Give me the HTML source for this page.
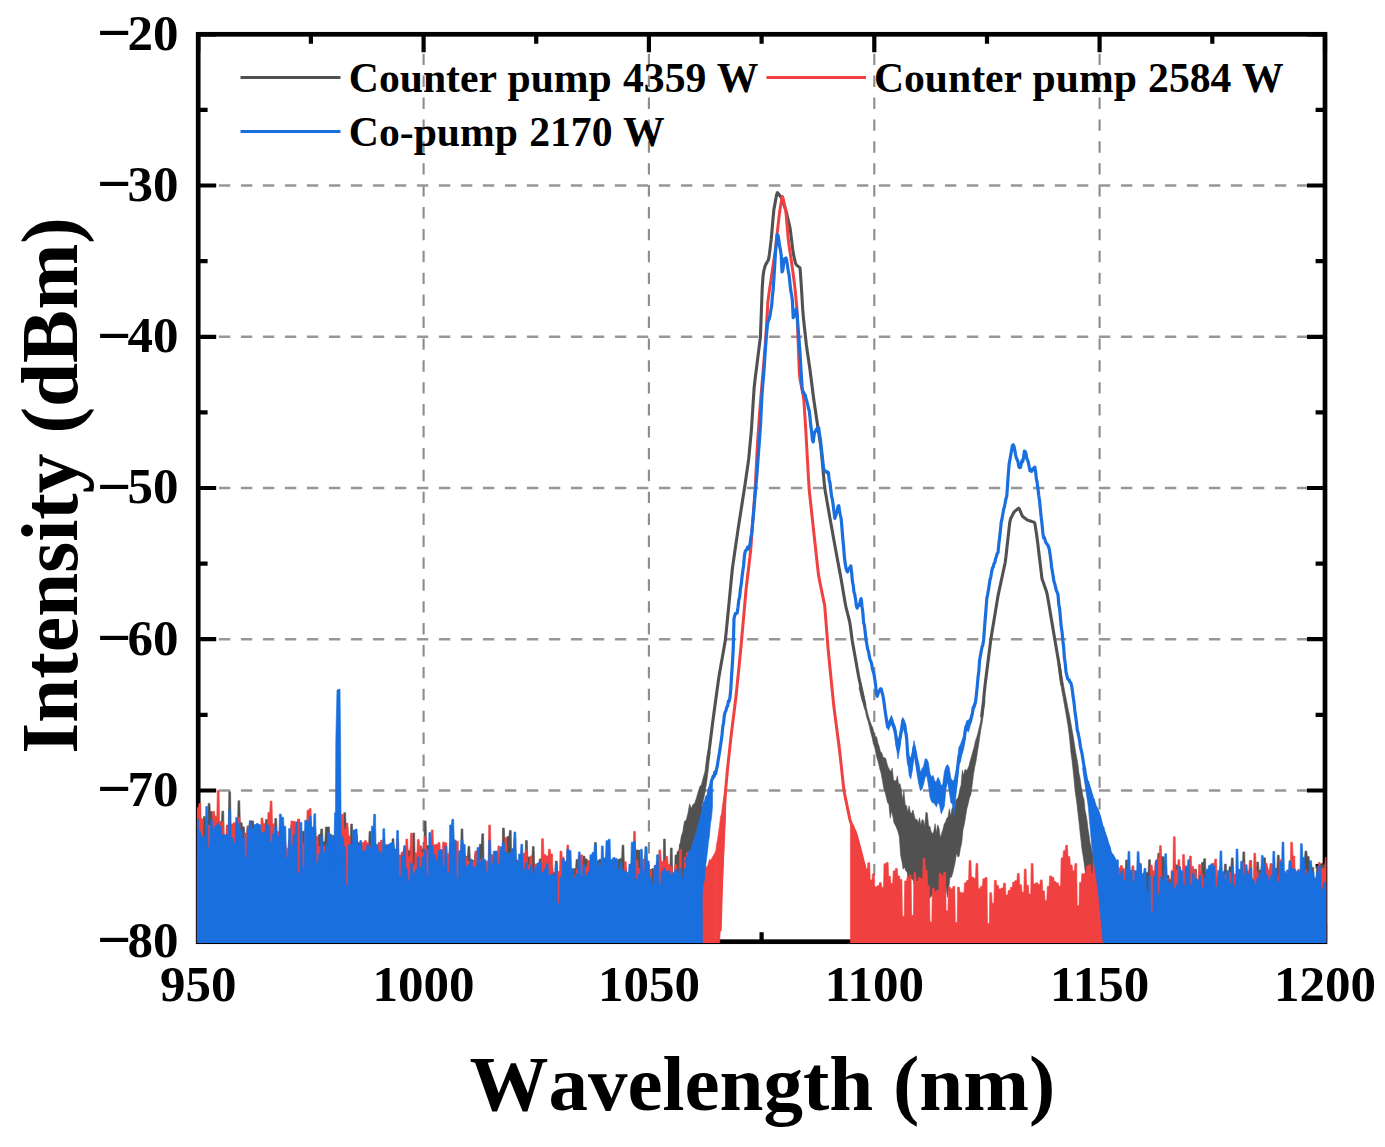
<!DOCTYPE html>
<html lang="en">
<head>
<meta charset="utf-8">
<title>Spectrum: Intensity (dBm) vs Wavelength (nm)</title>
<style>
html,body{margin:0;padding:0;background:#fff;}
body{width:1385px;height:1147px;overflow:hidden;}
svg{display:block;}
text{font-family:"Liberation Serif","Times New Roman",Times,serif;font-weight:bold;fill:#000;}
</style>
</head>
<body>
<svg width="1385" height="1147" viewBox="0 0 1385 1147">
<rect width="1385" height="1147" fill="#fff"/>
<defs><clipPath id="plot"><rect x="196.9" y="33" width="1129.4" height="910"/></clipPath></defs>
<g stroke="#979797" stroke-width="2.6" fill="none"><line x1="423.6" y1="34.3" x2="423.6" y2="941.7" stroke="#8c8c8c" stroke-width="2.1" stroke-dasharray="11.4 10.5" stroke-dashoffset="2.5"/><line x1="648.9" y1="34.3" x2="648.9" y2="941.7" stroke="#8c8c8c" stroke-width="2.1" stroke-dasharray="11.4 10.5" stroke-dashoffset="2.5"/><line x1="874.3" y1="34.3" x2="874.3" y2="941.7" stroke="#8c8c8c" stroke-width="2.1" stroke-dasharray="11.4 10.5" stroke-dashoffset="2.5"/><line x1="1099.6" y1="34.3" x2="1099.6" y2="941.7" stroke="#8c8c8c" stroke-width="2.1" stroke-dasharray="11.4 10.5" stroke-dashoffset="2.5"/><line x1="198.2" y1="185.5" x2="1325" y2="185.5" stroke-dasharray="11.4 10.6" stroke-dashoffset="1.3"/><line x1="198.2" y1="336.8" x2="1325" y2="336.8" stroke-dasharray="11.4 10.6" stroke-dashoffset="1.3"/><line x1="198.2" y1="488" x2="1325" y2="488" stroke-dasharray="11.4 10.6" stroke-dashoffset="1.3"/><line x1="198.2" y1="639.2" x2="1325" y2="639.2" stroke-dasharray="11.4 10.6" stroke-dashoffset="1.3"/><line x1="198.2" y1="790.5" x2="1325" y2="790.5" stroke-dasharray="11.4 10.6" stroke-dashoffset="1.3"/></g>
<rect x="198.2" y="34.3" width="1126.8" height="907.4" fill="none" stroke="#000" stroke-width="4.7"/>
<path d="M198.2 34.3v18M198.2 941.7v-18M310.9 34.3v9.4M310.9 941.7v-9.4M423.6 34.3v18M423.6 941.7v-18M536.2 34.3v9.4M536.2 941.7v-9.4M648.9 34.3v18M648.9 941.7v-18M761.6 34.3v9.4M761.6 941.7v-9.4M874.3 34.3v18M874.3 941.7v-18M987 34.3v9.4M987 941.7v-9.4M1099.6 34.3v18M1099.6 941.7v-18M1212.3 34.3v9.4M1212.3 941.7v-9.4M1325 34.3v18M1325 941.7v-18M198.2 941.7h18M1325 941.7h-18M198.2 866.1h9.4M1325 866.1h-9.4M198.2 790.5h18M1325 790.5h-18M198.2 714.9h9.4M1325 714.9h-9.4M198.2 639.2h18M1325 639.2h-18M198.2 563.6h9.4M1325 563.6h-9.4M198.2 488h18M1325 488h-18M198.2 412.4h9.4M1325 412.4h-9.4M198.2 336.8h18M1325 336.8h-18M198.2 261.2h9.4M1325 261.2h-9.4M198.2 185.5h18M1325 185.5h-18M198.2 109.9h9.4M1325 109.9h-9.4M198.2 34.3h18M1325 34.3h-18" stroke="#000" stroke-width="4.2" fill="none"/>
<g clip-path="url(#plot)">
<g fill="#515151" stroke="#515151" stroke-width="0.6" stroke-linejoin="round"><path d="M195.2 947.1L195.2 834.2L196.1 834.2L196.6 872L198.4 872L198.9 834.2L200.7 834.2L201.2 828L203 828L203.5 816.4L205.3 816.4L205.8 832.7L207.6 832.7L208.1 803.4L209.9 803.4L210.4 811.5L212.2 811.5L212.7 825.1L214.5 825.1L215 830.7L216.8 830.7L217.3 833L219.1 833L219.6 821.6L221.4 821.6L221.9 811.1L223.7 811.1L224.2 846.2L226 846.2L226.5 825.1L228.3 825.1L228.8 791.7L230.6 791.7L231.1 834.1L232.9 834.1L233.4 828.7L235.2 828.7L235.7 826.2L237.5 826.2L238 800.8L239.8 800.8L240.3 822.7L242.1 822.7L242.6 826.9L244.4 826.9L244.9 839.7L246.7 839.7L247.2 826L249 826L249.5 820.8L251.3 820.8L251.8 820.9L253.6 820.9L254.1 830L255.9 830L256.4 830.3L258.2 830.3L258.7 829.2L260.5 829.2L261 825.6L262.8 825.6L263.3 833.9L265.1 833.9L265.6 819.5L267.4 819.5L267.9 834.5L269.7 834.5L270.2 824L272 824L272.5 859.6L274.3 859.6L274.8 818.5L276.6 818.5L277.1 832.2L278.9 832.2L279.4 837.3L281.2 837.3L281.7 861.2L283.5 861.2L284 848.2L285.8 848.2L286.3 856L288.1 856L288.6 839.9L290.4 839.9L290.9 825.2L292.7 825.2L293.2 829.5L295 829.5L295.5 835.4L297.3 835.4L297.8 819.4L299.6 819.4L300.1 842.4L301.9 842.4L302.4 831.2L304.2 831.2L304.7 853.7L306.5 853.7L307 870.5L308.8 870.5L309.3 876.1L311.1 876.1L311.6 844L313.4 844L313.9 827.8L315.7 827.8L316.2 839L318 839L318.5 834.6L320.3 834.6L320.8 829L322.6 829L323.1 841.8L324.9 841.8L325.4 827L327.2 827L327.7 827L329.5 827L330 848.1L331.8 848.1L332.3 835.6L334.1 835.6L334.6 840.2L336.4 840.2L336.9 833.1L338.7 833.1L339.2 848.1L341 848.1L341.5 840.9L343.3 840.9L343.8 812.7L345.6 812.7L346.1 827.1L347.9 827.1L348.4 839.4L350.2 839.4L350.7 824L352.5 824L353 843.3L354.8 843.3L355.3 834L357.1 834L357.6 842.4L359.4 842.4L359.9 854.9L361.7 854.9L362.2 844.6L364 844.6L364.5 842.8L366.3 842.8L366.8 846.7L368.6 846.7L369.1 831.5L370.9 831.5L371.4 849.1L373.2 849.1L373.7 845.8L375.5 845.8L376 848.6L377.8 848.6L378.3 842.4L380.1 842.4L380.6 846.6L382.4 846.6L382.9 849.6L384.7 849.6L385.2 846.1L387 846.1L387.5 845.6L389.3 845.6L389.8 852.5L391.6 852.5L392.1 838.7L393.9 838.7L394.4 854.4L396.2 854.4L396.7 892.2L398.5 892.2L399 876L400.8 876L401.3 860.6L403.1 860.6L403.6 849L405.4 849L405.9 847.2L407.7 847.2L408.2 850.7L410 850.7L410.5 846L412.3 846L412.8 833L414.6 833L415.1 856.7L416.9 856.7L417.4 872.8L419.2 872.8L419.7 846.1L421.5 846.1L422 849.1L423.8 849.1L424.3 821L426.1 821L426.6 845.6L428.4 845.6L428.9 845.8L430.7 845.8L431.2 871.2L433 871.2L433.5 848.7L435.3 848.7L435.8 846L437.6 846L438.1 858.3L439.9 858.3L440.4 882.3L442.2 882.3L442.7 857.8L444.5 857.8L445 895.1L446.8 895.1L447.3 856.3L449.1 856.3L449.6 842.9L451.4 842.9L451.9 833.3L453.7 833.3L454.2 854.9L456 854.9L456.5 881.6L458.3 881.6L458.8 854.4L460.6 854.4L461.1 828.9L462.9 828.9L463.4 858.8L465.2 858.8L465.7 856.3L467.5 856.3L468 846.4L469.8 846.4L470.3 859.2L472.1 859.2L472.6 860.6L474.4 860.6L474.9 853.2L476.7 853.2L477.2 848.6L479 848.6L479.5 844.3L481.3 844.3L481.8 833.8L483.6 833.8L484.1 864.3L485.9 864.3L486.4 868.7L488.2 868.7L488.7 862.8L490.5 862.8L491 859.1L492.8 859.1L493.3 883.6L495.1 883.6L495.6 862.2L497.4 862.2L497.9 870.1L499.7 870.1L500.2 862.7L502 862.7L502.5 828.1L504.3 828.1L504.8 838.1L506.6 838.1L507.1 836.5L508.9 836.5L509.4 830.4L511.2 830.4L511.7 862L513.5 862L514 839.2L515.8 839.2L516.3 860.2L518.1 860.2L518.6 863.2L520.4 863.2L520.9 857.5L522.7 857.5L523.2 864.8L525 864.8L525.5 840.6L527.3 840.6L527.8 856.9L529.6 856.9L530.1 857.6L531.9 857.6L532.4 846.6L534.2 846.6L534.7 871.1L536.5 871.1L537 863.3L538.8 863.3L539.3 859L541.1 859L541.6 857.2L543.4 857.2L543.9 865.5L545.7 865.5L546.2 862.4L548 862.4L548.5 877L550.3 877L550.8 867.7L552.6 867.7L553.1 872.5L554.9 872.5L555.4 861.1L557.2 861.1L557.7 875.2L559.5 875.2L560 874.5L561.8 874.5L562.3 870.3L564.1 870.3L564.6 867.8L566.4 867.8L566.9 866.3L568.7 866.3L569.2 872.1L571 872.1L571.5 872.4L573.3 872.4L573.8 868.5L575.6 868.5L576.1 859.6L577.9 859.6L578.4 861.1L580.2 861.1L580.7 861.8L582.5 861.8L583 856.1L584.8 856.1L585.3 858.9L587.1 858.9L587.6 861.3L589.4 861.3L589.9 868.4L591.7 868.4L592.2 866.2L594 866.2L594.5 842.5L596.3 842.5L596.8 861.7L598.6 861.7L599.1 859.3L600.9 859.3L601.4 872.8L603.2 872.8L603.7 868.2L605.5 868.2L606 867L607.8 867L608.3 871.9L610.1 871.9L610.6 895.8L612.4 895.8L612.9 878L614.7 878L615.2 876.1L617 876.1L617.5 859.4L619.3 859.4L619.8 858.4L621.6 858.4L622.1 845.2L623.9 845.2L624.4 867.8L626.2 867.8L626.7 873.3L628.5 873.3L629 882L630.8 882L631.3 875.4L633.1 875.4L633.6 897.4L635.4 897.4L635.9 849.9L637.7 849.9L638.2 850.2L640 850.2L640.5 873.2L642.3 873.2L642.8 864.9L644.6 864.9L645.1 847.5L646.9 847.5L647.4 870.8L649.2 870.8L649.7 869.5L651.5 869.5L652 868.6L653.8 868.6L654.3 894.2L656.1 894.2L656.6 861.8L658.4 861.8L658.9 855.1L660.7 855.1L661.2 894.4L663 894.4L663.5 839.1L665.3 839.1L665.8 874.1L667.6 874.1L668.1 870.8L669.9 870.8L670.4 848L672.2 848L672.7 876.4L674.5 876.4L675 855L676.8 855L677.3 851.3L679.1 851.3L679.6 844L681.4 844L681.9 834.7L683.7 834.7L684.2 825.7L686 825.7L686.5 821.5L688.3 821.5L688.8 814.4L690.6 814.4L691.1 810.5L692.9 810.5L693.4 806.7L695.2 806.7L695.7 804L697.5 804L698 796L699.8 796L700.3 791L702.1 791L703 947.1Z"/><path d="M1092 947.1L1092 876.5L1092.9 876.5L1093.4 881L1095.2 881L1095.7 888.5L1097.5 888.5L1098 880.9L1099.8 880.9L1100.3 870L1102.1 870L1102.6 873.6L1104.4 873.6L1104.9 862.4L1106.7 862.4L1107.2 880.1L1109 880.1L1109.5 871.7L1111.3 871.7L1111.8 864.3L1113.6 864.3L1114.1 868.4L1115.9 868.4L1116.4 882L1118.2 882L1118.7 883.1L1120.5 883.1L1121 875.6L1122.8 875.6L1123.3 883.7L1125.1 883.7L1125.6 860L1127.4 860L1127.9 877.9L1129.7 877.9L1130.2 880.4L1132 880.4L1132.5 870.1L1134.3 870.1L1134.8 888.9L1136.6 888.9L1137.1 877L1138.9 877L1139.4 863.4L1141.2 863.4L1141.7 889.9L1143.5 889.9L1144 872.1L1145.8 872.1L1146.3 872.4L1148.1 872.4L1148.6 859.8L1150.4 859.8L1150.9 878.6L1152.7 878.6L1153.2 880.4L1155 880.4L1155.5 863.9L1157.3 863.9L1157.8 853.3L1159.6 853.3L1160.1 855.9L1161.9 855.9L1162.4 856.8L1164.2 856.8L1164.7 865.3L1166.5 865.3L1167 875.3L1168.8 875.3L1169.3 879.4L1171.1 879.4L1171.6 874.4L1173.4 874.4L1173.9 863.9L1175.7 863.9L1176.2 865.1L1178 865.1L1178.5 867.4L1180.3 867.4L1180.8 879.8L1182.6 879.8L1183.1 874.3L1184.9 874.3L1185.4 905.6L1187.2 905.6L1187.7 874.9L1189.5 874.9L1190 881L1191.8 881L1192.3 876.4L1194.1 876.4L1194.6 869.2L1196.4 869.2L1196.9 879.6L1198.7 879.6L1199.2 901.5L1201 901.5L1201.5 862.5L1203.3 862.5L1203.8 858.7L1205.6 858.7L1206.1 886.4L1207.9 886.4L1208.4 870.8L1210.2 870.8L1210.7 872.8L1212.5 872.8L1213 876.4L1214.8 876.4L1215.3 877.1L1217.1 877.1L1217.6 880.4L1219.4 880.4L1219.9 887.8L1221.7 887.8L1222.2 872.7L1224 872.7L1224.5 864.1L1226.3 864.1L1226.8 876.9L1228.6 876.9L1229.1 866.7L1230.9 866.7L1231.4 857.9L1233.2 857.9L1233.7 875.3L1235.5 875.3L1236 875.2L1237.8 875.2L1238.3 869.9L1240.1 869.9L1240.6 870L1242.4 870L1242.9 851.9L1244.7 851.9L1245.2 870L1247 870L1247.5 871.6L1249.3 871.6L1249.8 860.4L1251.6 860.4L1252.1 882.2L1253.9 882.2L1254.4 877.1L1256.2 877.1L1256.7 862L1258.5 862L1259 870.2L1260.8 870.2L1261.3 866.3L1263.1 866.3L1263.6 857.8L1265.4 857.8L1265.9 866.7L1267.7 866.7L1268.2 871.6L1270 871.6L1270.5 916L1272.3 916L1272.8 876.6L1274.6 876.6L1275.1 869.2L1276.9 869.2L1277.4 855.2L1279.2 855.2L1279.7 867.5L1281.5 867.5L1282 869.2L1283.8 869.2L1284.3 877.8L1286.1 877.8L1286.6 909.2L1288.4 909.2L1288.9 890.1L1290.7 890.1L1291.2 878.5L1293 878.5L1293.5 871.1L1295.3 871.1L1295.8 889.4L1297.6 889.4L1298.1 890.9L1299.9 890.9L1300.4 879L1302.2 879L1302.7 859.4L1304.5 859.4L1305 851.1L1306.8 851.1L1307.3 856.4L1309.1 856.4L1309.6 864.2L1311.4 864.2L1311.9 867.5L1313.7 867.5L1314.2 886L1316 886L1316.5 865.9L1318.3 865.9L1318.8 871.5L1320.6 871.5L1321.1 863.3L1322.9 863.3L1323.4 865L1325.2 865L1325.7 864.1L1327.5 864.1L1328 947.1Z"/><path d="M861 683.4L862.3 690.5L863.6 696.2L864.9 701.5L866.2 706.9L867.5 712.4L868.8 717.5L870.1 721.6L871.4 724.9L872.7 727.4L874 732.6L875.3 736.9L876.6 736.7L877.9 742.9L879.2 746.4L880.5 752.1L881.8 752.7L883.1 757.3L884.4 757.8L885.7 758.3L887 763.8L888.3 767.5L889.6 770L890.9 771.5L892.2 768.1L893.5 779.9L894.8 780.8L896.1 780.9L897.4 775.8L898.7 784.7L900 783.6L901.3 789.9L902.6 799.6L903.9 791.1L905.2 805.1L906.5 805.5L907.8 812.3L909.1 805.8L910.4 812.8L911.7 813.3L913 810L914.3 815.8L915.6 820L916.9 819.2L918.2 823.3L919.5 817.7L920.8 825.3L922.1 819.7L923.4 820.2L924.7 826.5L926 812L927.3 813L928.6 826.3L929.9 826.4L931.2 831.7L932.5 833.9L933.8 831.3L935.1 823.7L936.4 833L937.7 824.8L939 828.3L940.3 838.1L941.6 833.4L942.9 829.5L944.2 824.3L945.5 821.9L946.8 818.3L948.1 816.8L949.4 808.8L950.7 816.3L952 808.5L953.3 806.5L954.6 810L955.9 799.8L957.2 799.1L958.5 796.3L959.8 789.6L961.1 784.9L962.4 770.2L963.7 775.2L965 769.2L966.3 770.6L967.6 769.2L968.9 766.1L970.2 761.1L971.5 756.4L972.8 751.5L974.1 747.2L975.4 740.9L976.7 737.6L978 732.7L979.3 727.2L980.6 722.1L981.9 710.8L983.2 699.4L985.1 700.1L983.8 709.9L982.5 720.8L981.2 727.6L979.9 735.8L978.6 745L977.3 753L976 761.2L974.7 767.3L973.4 775.1L972.1 785.7L970.8 794.9L969.5 797.7L968.2 803.7L966.9 808.4L965.6 816.4L964.3 824.3L963 829.8L961.7 843L960.4 848.4L959.1 856.4L957.8 856.8L956.5 852.8L955.2 862L953.9 868.1L952.6 873.8L951.3 877.4L950 877L948.7 888.6L947.4 897.3L946.1 886.9L944.8 895.9L943.5 888.2L942.2 892.9L940.9 888.7L939.6 891.7L938.3 891.9L937 889.1L935.7 899.4L934.4 893.8L933.1 892L931.8 895.5L930.5 897.3L929.2 898.4L927.9 894.2L926.6 895.5L925.3 886.7L924 886.2L922.7 886.9L921.4 886L920.1 889.6L918.8 885.9L917.5 880.2L916.2 883L914.9 891.1L913.6 881.4L912.3 878.9L911 878.5L909.7 873.3L908.4 884.2L907.1 871.7L905.8 870.9L904.5 867L903.2 869.2L901.9 861.4L900.6 855.1L899.3 836.6L898 831.7L896.7 828.3L895.4 825.2L894.1 823.3L892.8 816.2L891.5 810.9L890.2 818.2L888.9 804.3L887.6 802.7L886.3 797.2L885 791.7L883.7 788L882.4 780.3L881.1 773.2L879.8 768.9L878.5 762.9L877.2 758.8L875.9 753.2L874.6 747.1L873.3 743.4L872 737L870.7 732.4L869.4 726.6L868.1 721.3L866.8 717.8L865.5 711.6L864.2 707.8L862.9 702.2L861.6 699.3L860.3 693.2L859 688Z"/><path d="M1060 663.5L1061 669.5L1062 676.5L1063 682.3L1064 687.6L1065 693L1066 697.8L1067 703.2L1068 708.5L1069 712.8L1070 717.9L1071 724.1L1072 729.7L1073 734.9L1074 741.4L1075 748.1L1076 754L1077 759.2L1078 765L1079 773.6L1080 777.9L1081 785.4L1082 791.2L1083 796.5L1084 799.4L1085 810L1086 814.4L1087 820.2L1088 829.1L1089 835L1090 842.8L1091 846.1L1092 851.2L1093 853.5L1094 872.2L1095 880.3L1096 892.8L1097 946L1089 926L1088 893.7L1087 887.2L1086 878.7L1085 870L1084 862.1L1083 855.3L1082 849.4L1081 840.3L1080 831.4L1079 822.1L1078 813.7L1077 804.5L1076 797.2L1075 790.1L1074 779L1073 769.6L1072 760.4L1071 753.3L1070 742.7L1069 733.4L1068 725.7L1067 720L1066 714.1L1065 708.3L1064 702.7L1063 696.7L1062 691.8L1061 685.5L1060 679.9L1059 672.2L1058 664.1Z"/><path d="M676 858.1L677.7 854.1L679.4 848.1L681.1 837.4L682.8 831.7L684.5 821.3L686.2 820.3L687.9 813.6L689.6 803.9L691.3 808.5L693 804.5L694.7 803.2L696.4 798.3L698.1 792.2L699.8 786.8L701.5 784.5L703.2 777.7L704.9 771.9L706.6 757.9L708.3 749.6L710 752.6L708.3 769.5L706.6 782.7L704.9 792.9L703.2 800.5L701.5 805.2L699.8 812.7L698.1 820.7L696.4 821.4L694.7 825.1L693 830.8L691.3 836.2L689.6 847.9L687.9 851.3L686.2 849.3L684.5 855.1L682.8 870L681.1 871.2L679.4 872.5L677.7 880.6L676 880.7Z"/></g>
<path d="M708.2 758L709.1 750.9L710 743.8L710.9 736.6L711.8 729.5L712.7 722.4L713.6 715.6L714.5 709L715.4 702.4L716.3 695.8L717.2 689.2L718.1 682.6L719 676.4L719.9 671.3L720.8 666.1L721.7 661L722.6 655.9L723.5 650.8L724.4 645.7L725.3 640.6L726.2 631.9L727.1 622.8L728 613.7L728.9 604.6L729.8 595.1L730.7 585.7L731.6 576.3L732.5 567.6L733.4 561.4L734.3 555.2L735.2 549L736.1 542.8L737 536.6L737.9 530.4L738.8 524.4L739.7 518.7L740.6 512.9L741.5 507.2L742.4 501.4L743.3 495.7L744.2 489.9L745.1 483.9L746 477.8L746.9 471.6L747.8 465.5L748.7 458.9L749.6 449.3L750.5 439.6L751.4 430L752.3 416L753.2 402L754.1 388.1L755 380.1L755.9 372.9L756.8 365.8L757.7 358.6L758.6 351.4L759.5 344.3L760.4 337.1L761.3 313.2L762.2 288.6L763.1 275.7L764 270.1L764.9 266.6L765.8 264.4L766.7 262.9L767.6 261.3L768.5 259.8L769.4 254.3L770.3 246.9L771.2 239.4L772.1 229.2L773 218.7L773.9 209.4L774.8 204.6L775.7 199.7L776.6 194.9L777.5 192.7L778.4 193.8L779.3 194.9L780.2 196L781.1 197.3L782 199.7L782.9 202.1L783.8 204.6L784.7 207L785.6 209.4L786.5 212.7L787.4 216.6L788.3 220.5L789.2 224.4L790.1 228.4L791 235.3L791.9 242.6L792.8 249.9L793.7 255.4L794.6 259.4L795.5 263.3L796.4 264.8L797.3 265.6L798.2 266.4L799.1 267.1L800 267.9L800.9 279.7L801.8 293.9L802.7 309.2L803.6 319.7L804.5 327.9L805.4 336L806.3 344.2L807.2 350.7L808.1 356.8L809 362.9L809.9 369L810.8 376.1L811.7 383.3L812.6 390.4L813.5 397.6L814.4 403.7L815.3 409.8L816.2 416L817.1 422.1L818 428.1L818.9 434.1L819.8 440.1L820.7 446L821.6 454.5L822.5 464.2L823.4 473.9L824.3 483.7L825.2 490.9L826.1 496.1L827 501.2L827.9 506.4L828.8 511.6L829.7 516.8L830.6 521.8L831.5 526.8L832.4 531.7L833.3 536.7L834.2 541.7L835.1 546.6L836 551.6L836.9 556.4L837.8 561.3L838.7 566.1L839.6 570.9L840.5 575.7L841.4 580.7L842.3 586L843.2 591.4L844.1 596.7L845 602L845.9 606.8L846.8 610.3L847.7 613.9L848.6 617.5L849.5 621L850.4 626.2L851.3 633.5L852.2 640.3L853.1 645.4L854 650.5L854.9 655.5L855.8 660.6L856.7 665.7L857.6 670.7L858.5 675.8L859.4 680.2L860.3 684.2L861.2 688.2L862.1 692.2L863 696.3L863.9 700.5L864.8 704.7M981.7 716L982.6 708.6L983.5 700.9L984.4 691.3L985.3 683.1L986.2 676L987.1 668.9L988 661.8L988.9 654.7L989.8 647.6L990.7 640.5L991.6 634.8L992.5 629.3L993.4 623.8L994.3 618.4L995.2 612.9L996.1 607.4L997 601.9L997.9 596.4L998.8 592.1L999.7 587.9L1000.6 583.8L1001.5 579.6L1002.4 575.5L1003.3 571.3L1004.2 567.1L1005.1 563L1006 556.2L1006.9 548L1007.8 539.9L1008.7 531.8L1009.6 523.6L1010.5 519L1011.4 517.2L1012.3 515.4L1013.2 513.6L1014.1 511.9L1015 511.2L1015.9 510.4L1016.8 509.7L1017.7 508.9L1018.6 508.2L1019.5 509.3L1020.4 511.4L1021.3 513.6L1022.2 515.7L1023.1 516.8L1024 517.5L1024.9 518.2L1025.8 518.8L1026.7 519.5L1027.6 520.1L1028.5 520.4L1029.4 520.7L1030.3 521L1031.2 521.3L1032.1 521.6L1033 521.9L1033.9 522.2L1034.8 523.1L1035.7 528.8L1036.6 534.5L1037.5 541.2L1038.4 548.7L1039.3 556.2L1040.2 563.7L1041.1 571.2L1042 578.7L1042.9 581.3L1043.8 583.8L1044.7 586.4L1045.6 589L1046.5 591.6L1047.4 595.4L1048.3 600.8L1049.2 606.1L1050.1 611.5L1051 616.9L1051.9 622.3L1052.8 627.6L1053.7 633L1054.6 638.3L1055.5 643.6L1056.4 648.8L1057.3 654.1L1058.2 659.3L1059.1 664.7L1060 671.3L1060.9 677.9L1061.8 684.5" fill="none" stroke="#515151" stroke-width="3.1" stroke-linejoin="round" stroke-linecap="round"/>
<g fill="#F14040" stroke="#F14040" stroke-width="0.6" stroke-linejoin="round"><path d="M195.2 947.1L195.2 827.1L196.1 827.1L196.6 807.6L198.4 807.6L198.9 803.5L200.7 803.5L201.2 818.8L203 818.8L203.5 852.1L205.3 852.1L205.8 825.4L207.6 825.4L208.1 825.1L209.9 825.1L210.4 835.3L212.2 835.3L212.7 811.3L214.5 811.3L215 816.3L216.8 816.3L217.3 790.5L219.1 790.5L219.6 822.5L221.4 822.5L221.9 821.5L223.7 821.5L224.2 835.3L226 835.3L226.5 825.6L228.3 825.6L228.8 839.3L230.6 839.3L231.1 823.9L232.9 823.9L233.4 822.4L235.2 822.4L235.7 824.3L237.5 824.3L238 817.2L239.8 817.2L240.3 834.4L242.1 834.4L242.6 850.4L244.4 850.4L244.9 833.1L246.7 833.1L247.2 825.9L249 825.9L249.5 827.7L251.3 827.7L251.8 834.9L253.6 834.9L254.1 830.5L255.9 830.5L256.4 824.4L258.2 824.4L258.7 847.4L260.5 847.4L261 818L262.8 818L263.3 823.5L265.1 823.5L265.6 828L267.4 828L267.9 812.4L269.7 812.4L270.2 801.1L272 801.1L272.5 823.7L274.3 823.7L274.8 834.6L276.6 834.6L277.1 831.8L278.9 831.8L279.4 830.3L281.2 830.3L281.7 833.8L283.5 833.8L284 841.8L285.8 841.8L286.3 848.4L288.1 848.4L288.6 843.3L290.4 843.3L290.9 820.9L292.7 820.9L293.2 821.3L295 821.3L295.5 834.5L297.3 834.5L297.8 818.9L299.6 818.9L300.1 835.2L301.9 835.2L302.4 843.4L304.2 843.4L304.7 830.6L306.5 830.6L307 810.3L308.8 810.3L309.3 808.5L311.1 808.5L311.6 836.5L313.4 836.5L313.9 834.3L315.7 834.3L316.2 836.6L318 836.6L318.5 846.5L320.3 846.5L320.8 859.6L322.6 859.6L323.1 846.1L324.9 846.1L325.4 849.8L327.2 849.8L327.7 848.2L329.5 848.2L330 847.2L331.8 847.2L332.3 841.9L334.1 841.9L334.6 839.3L336.4 839.3L336.9 847L338.7 847L339.2 831L341 831L341.5 814.3L343.3 814.3L343.8 829.1L345.6 829.1L346.1 823.1L347.9 823.1L348.4 836.1L350.2 836.1L350.7 870.6L352.5 870.6L353 852.5L354.8 852.5L355.3 880.3L357.1 880.3L357.6 849.7L359.4 849.7L359.9 848.6L361.7 848.6L362.2 842.5L364 842.5L364.5 840.6L366.3 840.6L366.8 842.7L368.6 842.7L369.1 846.2L370.9 846.2L371.4 850.5L373.2 850.5L373.7 849.1L375.5 849.1L376 845.9L377.8 845.9L378.3 843.6L380.1 843.6L380.6 840.1L382.4 840.1L382.9 856.5L384.7 856.5L385.2 844.5L387 844.5L387.5 858.8L389.3 858.8L389.8 871.1L391.6 871.1L392.1 876.2L393.9 876.2L394.4 853.4L396.2 853.4L396.7 838.9L398.5 838.9L399 854.9L400.8 854.9L401.3 851.9L403.1 851.9L403.6 853.2L405.4 853.2L405.9 839.1L407.7 839.1L408.2 856.6L410 856.6L410.5 833.2L412.3 833.2L412.8 865.9L414.6 865.9L415.1 852.9L416.9 852.9L417.4 839.5L419.2 839.5L419.7 845.9L421.5 845.9L422 852.6L423.8 852.6L424.3 836.2L426.1 836.2L426.6 849.8L428.4 849.8L428.9 856L430.7 856L431.2 829.9L433 829.9L433.5 844.7L435.3 844.7L435.8 844.2L437.6 844.2L438.1 842.5L439.9 842.5L440.4 850.8L442.2 850.8L442.7 842L444.5 842L445 842.9L446.8 842.9L447.3 854L449.1 854L449.6 847.7L451.4 847.7L451.9 854.5L453.7 854.5L454.2 839.9L456 839.9L456.5 841.3L458.3 841.3L458.8 870.6L460.6 870.6L461.1 849.4L462.9 849.4L463.4 854.6L465.2 854.6L465.7 857.3L467.5 857.3L468 861.7L469.8 861.7L470.3 867.4L472.1 867.4L472.6 861.8L474.4 861.8L474.9 851L476.7 851L477.2 860.9L479 860.9L479.5 860L481.3 860L481.8 860.2L483.6 860.2L484.1 869.2L485.9 869.2L486.4 860.9L488.2 860.9L488.7 825.1L490.5 825.1L491 854.6L492.8 854.6L493.3 857.7L495.1 857.7L495.6 858.7L497.4 858.7L497.9 845.9L499.7 845.9L500.2 865.9L502 865.9L502.5 859L504.3 859L504.8 837.9L506.6 837.9L507.1 859.4L508.9 859.4L509.4 865L511.2 865L511.7 859.5L513.5 859.5L514 874.5L515.8 874.5L516.3 893.7L518.1 893.7L518.6 874.7L520.4 874.7L520.9 855.9L522.7 855.9L523.2 853.2L525 853.2L525.5 849.9L527.3 849.9L527.8 864.9L529.6 864.9L530.1 855.9L531.9 855.9L532.4 873.8L534.2 873.8L534.7 864L536.5 864L537 886L538.8 886L539.3 862.4L541.1 862.4L541.6 838.7L543.4 838.7L543.9 854.4L545.7 854.4L546.2 856L548 856L548.5 849.2L550.3 849.2L550.8 854L552.6 854L553.1 890L554.9 890L555.4 869.4L557.2 869.4L557.7 871.3L559.5 871.3L560 851.1L561.8 851.1L562.3 857.2L564.1 857.2L564.6 873.2L566.4 873.2L566.9 845.1L568.7 845.1L569.2 877L571 877L571.5 874.5L573.3 874.5L573.8 875.8L575.6 875.8L576.1 869L577.9 869L578.4 855.5L580.2 855.5L580.7 854.8L582.5 854.8L583 871.3L584.8 871.3L585.3 867.1L587.1 867.1L587.6 860.6L589.4 860.6L589.9 869.9L591.7 869.9L592.2 857.5L594 857.5L594.5 867.6L596.3 867.6L596.8 863.5L598.6 863.5L599.1 863.7L600.9 863.7L601.4 864.6L603.2 864.6L603.7 866.4L605.5 866.4L606 854.1L607.8 854.1L608.3 863L610.1 863L610.6 860.6L612.4 860.6L612.9 878.5L614.7 878.5L615.2 902.1L617 902.1L617.5 871.4L619.3 871.4L619.8 866.8L621.6 866.8L622.1 873.2L623.9 873.2L624.4 861.7L626.2 861.7L626.7 881.7L628.5 881.7L629 876.1L630.8 876.1L631.3 860.7L633.1 860.7L633.6 831.4L635.4 831.4L635.9 859.7L637.7 859.7L638.2 868.5L640 868.5L640.5 866.8L642.3 866.8L642.8 858.9L644.6 858.9L645.1 863.5L646.9 863.5L647.4 869.4L649.2 869.4L649.7 869.9L651.5 869.9L652 887.6L653.8 887.6L654.3 865.3L656.1 865.3L656.6 863.7L658.4 863.7L658.9 850L660.7 850L661.2 861.5L663 861.5L663.5 860.2L665.3 860.2L665.8 856.2L667.6 856.2L668.1 864.2L669.9 864.2L670.4 866.8L672.2 866.8L672.7 876.5L674.5 876.5L675 864.7L676.8 864.7L677.3 875.2L679.1 875.2L679.6 849.4L681.4 849.4L681.9 887.1L683.7 887.1L684.2 857.2L686 857.2L686.5 852.5L688.3 852.5L688.8 864.4L690.6 864.4L691.1 858.1L692.9 858.1L693.4 869.2L695.2 869.2L695.7 876.7L697.5 876.7L698 849.5L699.8 849.5L700 947.1Z"/><path d="M850.4 947.1L850.4 824.8L851.3 824.8L851.8 825.3L853.6 825.3L854.1 830.6L855.9 830.6L856.4 839.4L858.2 839.4L858.7 849L860.5 849L861 858L862.8 858L863.3 864.5L865.1 864.5L865.6 868.9L867.4 868.9L867.9 862.7L869.7 862.7L870.2 879.9L872 879.9L872.5 873.8L874.3 873.8L874.8 887L876.6 887L877.1 885.8L878.9 885.8L879.4 882.6L881.2 882.6L881.7 887.2L883.5 887.2L884 863.8L885.8 863.8L886.3 862.4L888.1 862.4L888.6 876.3L890.4 876.3L890.9 883.5L892.7 883.5L893.2 870.9L895 870.9L895.5 868.4L897.3 868.4L897.8 876L899.6 876L900.1 879.6L901.9 879.6L902.4 916.3L904.2 916.3L904.7 880.9L906.5 880.9L907 877.2L908.8 877.2L909.3 875.1L911.1 875.1L911.6 915.3L913.4 915.3L913.9 872.4L915.7 872.4L916.2 881.6L918 881.6L918.5 877.2L920.3 877.2L920.8 879.1L922.6 879.1L923.1 858.3L924.9 858.3L925.4 870.2L927.2 870.2L927.7 885.8L929.5 885.8L930 922L931.8 922L932.3 888L934.1 888L934.6 891.5L936.4 891.5L936.9 890.7L938.7 890.7L939.2 873.2L941 873.2L941.5 875.5L943.3 875.5L943.8 872.5L945.6 872.5L946.1 910.8L947.9 910.8L948.4 887L950.2 887L950.7 888.8L952.5 888.8L953 886.3L954.8 886.3L955.3 922.5L957.1 922.5L957.6 887.2L959.4 887.2L959.9 892.4L961.7 892.4L962.2 892.8L964 892.8L964.5 882.8L966.3 882.8L966.8 880.3L968.6 880.3L969.1 860.6L970.9 860.6L971.4 876.9L973.2 876.9L973.7 878.3L975.5 878.3L976 863.5L977.8 863.5L978.3 888.4L980.1 888.4L980.6 886.2L982.4 886.2L982.9 878.8L984.7 878.8L985.2 877.4L987 877.4L987.5 923.6L989.3 923.6L989.8 892.7L991.6 892.7L992.1 903.2L993.9 903.2L994.4 880.3L996.2 880.3L996.7 885.4L998.5 885.4L999 888.9L1000.8 888.9L1001.3 887.9L1003.1 887.9L1003.6 883.1L1005.4 883.1L1005.9 895.1L1007.7 895.1L1008.2 890.6L1010 890.6L1010.5 887.3L1012.3 887.3L1012.8 882L1014.6 882L1015.1 880.5L1016.9 880.5L1017.4 873.4L1019.2 873.4L1019.7 884.7L1021.5 884.7L1022 892.3L1023.8 892.3L1024.3 869.1L1026.1 869.1L1026.6 885.2L1028.4 885.2L1028.9 894.1L1030.7 894.1L1031.2 863.6L1033 863.6L1033.5 883.9L1035.3 883.9L1035.8 882.7L1037.6 882.7L1038.1 884.4L1039.9 884.4L1040.4 879.9L1042.2 879.9L1042.7 890.9L1044.5 890.9L1045 900.4L1046.8 900.4L1047.3 886.3L1049.1 886.3L1049.6 875.9L1051.4 875.9L1051.9 877.2L1053.7 877.2L1054.2 881.6L1056 881.6L1056.5 882.9L1058.3 882.9L1058.8 886L1060.6 886L1061.1 857.9L1062.9 857.9L1063.4 850.7L1065.2 850.7L1065.7 845.3L1067.5 845.3L1068 856.5L1069.8 856.5L1070.3 865L1072.1 865L1072.6 870.8L1074.4 870.8L1074.9 863.6L1076.7 863.6L1077.2 905.5L1079 905.5L1079.5 882.4L1081.3 882.4L1081.8 873.7L1083.6 873.7L1084.1 873.6L1085.9 873.6L1086.4 866.1L1088.2 866.1L1088.7 864.7L1090.5 864.7L1091 873.2L1092.8 873.2L1093.3 858.1L1095.1 858.1L1095.6 858L1097.4 858L1097.9 864.5L1099.7 864.5L1100.2 867.3L1102 867.3L1103 947.1Z"/><path d="M1103 947.1L1103 874.6L1103.9 874.6L1104.4 875.3L1106.2 875.3L1106.7 918.1L1108.5 918.1L1109 902L1110.8 902L1111.3 872.1L1113.1 872.1L1113.6 869.5L1115.4 869.5L1115.9 880.2L1117.7 880.2L1118.2 868L1120 868L1120.5 865.6L1122.3 865.6L1122.8 868.6L1124.6 868.6L1125.1 871.6L1126.9 871.6L1127.4 875.7L1129.2 875.7L1129.7 871L1131.5 871L1132 865.7L1133.8 865.7L1134.3 874.8L1136.1 874.8L1136.6 880.2L1138.4 880.2L1138.9 872.6L1140.7 872.6L1141.2 881.7L1143 881.7L1143.5 881.4L1145.3 881.4L1145.8 897.9L1147.6 897.9L1148.1 900L1149.9 900L1150.4 865.1L1152.2 865.1L1152.7 870.7L1154.5 870.7L1155 861.8L1156.8 861.8L1157.3 857.7L1159.1 857.7L1159.6 845.7L1161.4 845.7L1161.9 895.9L1163.7 895.9L1164.2 870.7L1166 870.7L1166.5 878.7L1168.3 878.7L1168.8 891L1170.6 891L1171.1 870.4L1172.9 870.4L1173.4 836.8L1175.2 836.8L1175.7 870.1L1177.5 870.1L1178 859.7L1179.8 859.7L1180.3 894.3L1182.1 894.3L1182.6 854.5L1184.4 854.5L1184.9 866L1186.7 866L1187.2 875.1L1189 875.1L1189.5 856L1191.3 856L1191.8 866.4L1193.6 866.4L1194.1 871.1L1195.9 871.1L1196.4 879.2L1198.2 879.2L1198.7 864.6L1200.5 864.6L1201 873.8L1202.8 873.8L1203.3 878.9L1205.1 878.9L1205.6 881.3L1207.4 881.3L1207.9 872.1L1209.7 872.1L1210.2 877.8L1212 877.8L1212.5 863.2L1214.3 863.2L1214.8 859.1L1216.6 859.1L1217.1 882.7L1218.9 882.7L1219.4 867.5L1221.2 867.5L1221.7 876.5L1223.5 876.5L1224 874L1225.8 874L1226.3 891.8L1228.1 891.8L1228.6 872.4L1230.4 872.4L1230.9 872.4L1232.7 872.4L1233.2 873.9L1235 873.9L1235.5 874.6L1237.3 874.6L1237.8 869.8L1239.6 869.8L1240.1 874L1241.9 874L1242.4 862.4L1244.2 862.4L1244.7 887.1L1246.5 887.1L1247 870.8L1248.8 870.8L1249.3 861.1L1251.1 861.1L1251.6 878.6L1253.4 878.6L1253.9 853.2L1255.7 853.2L1256.2 871.1L1258 871.1L1258.5 875.6L1260.3 875.6L1260.8 875.2L1262.6 875.2L1263.1 872.3L1264.9 872.3L1265.4 863.3L1267.2 863.3L1267.7 869.7L1269.5 869.7L1270 863.5L1271.8 863.5L1272.3 864.8L1274.1 864.8L1274.6 870L1276.4 870L1276.9 876.7L1278.7 876.7L1279.2 859.8L1281 859.8L1281.5 881L1283.3 881L1283.8 871.3L1285.6 871.3L1286.1 874.7L1287.9 874.7L1288.4 872.5L1290.2 872.5L1290.7 842.2L1292.5 842.2L1293 856L1294.8 856L1295.3 881.9L1297.1 881.9L1297.6 869.4L1299.4 869.4L1299.9 870.8L1301.7 870.8L1302.2 876.7L1304 876.7L1304.5 869.7L1306.3 869.7L1306.8 887.4L1308.6 887.4L1309.1 876.6L1310.9 876.6L1311.4 876.9L1313.2 876.9L1313.7 883.4L1315.5 883.4L1316 912.7L1317.8 912.7L1318.3 862.5L1320.1 862.5L1320.6 867.9L1322.4 867.9L1322.9 868.3L1324.7 868.3L1325.2 857.6L1327 857.6L1328 947.1Z"/><path d="M699 875.8L700.5 873.9L702 871.6L703.5 870L705 865.3L706.5 867.7L708 864.7L709.5 859.4L711 860L712.5 856.9L714 854.6L715.5 851.6L715.5 945.1L714 947.4L712.5 946.6L711 948.9L709.5 945.2L708 945.2L706.5 945.4L705 947.7L703.5 945.8L702 946.3L700.5 946.7L699 947.2Z"/><path d="M715.5 853.2L716.5 844.6L717.5 839.8L718.5 832.7L719.5 825.8L720.5 816.7L721.5 813.7L722.5 804.9L723.5 799.1L724.5 792.1L725.5 791.6L725.5 815.8L724.5 838.8L723.5 861.9L722.5 879.1L721.5 899.9L720.5 924.8L719.5 947.1L718.5 949.1L717.5 946.1L716.5 946.5L715.5 946.9Z"/></g>
<path d="M720.2 930L721.1 897.9L722 870L722.9 847.5L723.8 825.7L724.7 804.2L725.6 790.3L726.5 780.3L727.4 770.2L728.3 761.6L729.2 753.3L730.1 745.1L731 736.8L731.9 729.4L732.8 722.2L733.7 715.1L734.6 707.9L735.5 700.7L736.4 692.7L737.3 683.7L738.2 674.7L739.1 665.8L740 656.8L740.9 647.7L741.8 637.5L742.7 627.4L743.6 617.3L744.5 607.1L745.4 597L746.3 587.2L747.2 579.7L748.1 572.3L749 564.8L749.9 557.4L750.8 548.8L751.7 536.4L752.6 523.9L753.5 511.5L754.4 499.1L755.3 486L756.2 468.5L757.1 450.9L758 436.3L758.9 423.1L759.8 410L760.7 399.3L761.6 388.7L762.5 378L763.4 367.2L764.3 356.4L765.2 345.6L766.1 331.9L767 316.8L767.9 301.7L768.8 294.6L769.7 288.5L770.6 282.4L771.5 276.2L772.4 270.1L773.3 264L774.2 257.9L775.1 251.4L776 243.6L776.9 235.7L777.8 227.8L778.7 220L779.6 212.2L780.5 206.6L781.4 201.5L782.3 196.4L783.2 198.7L784.1 203L785 207.4L785.9 211.7L786.8 222.2L787.7 232.8L788.6 242.4L789.5 248.5L790.4 254.6L791.3 260.7L792.2 266.9L793.1 273.5L794 280L794.9 287.7L795.8 296.9L796.7 306L797.6 326.5L798.5 350.3L799.4 374.1L800.3 380.7L801.2 385.2L802.1 389.6L803 394.1L803.9 400.7L804.8 414.6L805.7 428.5L806.6 444.5L807.5 460.8L808.4 477.1L809.3 490.8L810.2 499.1L811.1 507.4L812 515.7L812.9 524L813.8 532.3L814.7 540.5L815.6 548.7L816.5 556.9L817.4 565.1L818.3 573.3L819.2 578.9L820.1 583.3L821 587.6L821.9 592L822.8 596.4L823.7 600.7L824.6 605.1L825.5 615.7L826.4 627.2L827.3 638.6L828.2 650L829.1 659L830 668.1L830.9 677.1L831.8 686.2L832.7 695.2L833.6 704.3L834.5 711.6L835.4 718.5L836.3 725.3L837.2 732.2L838.1 739L839 745.8L839.9 753.2L840.8 761.5L841.7 769.9L842.6 778.2L843.5 786.6L844.4 792.8L845.3 797.2L846.2 801.6L847.1 806L848 810.4L848.9 814.7L849.8 819.1L850.7 822.1L851.6 824.1L852.5 826.2L853.4 828.2L854.3 830.2L855.2 832.2L856.1 834.4L857 837.7L857.9 841.1L858.8 844.4L859.7 847.8L860.6 851.2L861.5 854.7L862.4 858.3L863.3 861.9L864.2 865.4L865.1 869.2L866 873.2L866.9 877.1L867.8 881.1" fill="none" stroke="#F14040" stroke-width="3.0" stroke-linejoin="round" stroke-linecap="round"/>
<g fill="#1A6FDF" stroke="#1A6FDF" stroke-width="0.6" stroke-linejoin="round"><path d="M195.2 947.1L195.2 844.8L196.1 844.8L196.6 818.8L198.4 818.8L198.9 831L200.7 831L201.2 837.2L203 837.2L203.5 835.6L205.3 835.6L205.8 806.5L207.6 806.5L208.1 847.4L209.9 847.4L210.4 819.7L212.2 819.7L212.7 829.1L214.5 829.1L215 825.4L216.8 825.4L217.3 823.2L219.1 823.2L219.6 826L221.4 826L221.9 834.7L223.7 834.7L224.2 834.8L226 834.8L226.5 834.4L228.3 834.4L228.8 809.8L230.6 809.8L231.1 837.9L232.9 837.9L233.4 842.9L235.2 842.9L235.7 817.6L237.5 817.6L238 823.4L239.8 823.4L240.3 830.4L242.1 830.4L242.6 837.3L244.4 837.3L244.9 857.6L246.7 857.6L247.2 827.6L249 827.6L249.5 821L251.3 821L251.8 828.5L253.6 828.5L254.1 824.6L255.9 824.6L256.4 823.5L258.2 823.5L258.7 824.6L260.5 824.6L261 833.1L262.8 833.1L263.3 832L265.1 832L265.6 824.4L267.4 824.4L267.9 825.4L269.7 825.4L270.2 842L272 842L272.5 833.6L274.3 833.6L274.8 826.4L276.6 826.4L277.1 836.7L278.9 836.7L279.4 814.1L281.2 814.1L281.7 817.3L283.5 817.3L284 826.2L285.8 826.2L286.3 857.6L288.1 857.6L288.6 828.5L290.4 828.5L290.9 846.1L292.7 846.1L293.2 835.1L295 835.1L295.5 821.8L297.3 821.8L297.8 873L299.6 873L300.1 822.5L301.9 822.5L302.4 867L304.2 867L304.7 820.3L306.5 820.3L307 821.8L308.8 821.8L309.3 816L311.1 816L311.6 827.1L313.4 827.1L313.9 813.8L315.7 813.8L316.2 863.1L318 863.1L318.5 854.2L320.3 854.2L320.8 836.2L322.6 836.2L323.1 852.2L324.9 852.2L325.4 844.7L327.2 844.7L327.7 832.5L329.5 832.5L330 834.3L331.8 834.3L332.3 837.8L334.1 837.8L334.6 812.7L336.4 812.7L336.9 827.8L338.7 827.8L339.2 866.3L341 866.3L341.5 836.9L343.3 836.9L343.8 846.6L345.6 846.6L346.1 885.4L347.9 885.4L348.4 845L350.2 845L350.7 844L352.5 844L353 830L354.8 830L355.3 829.1L357.1 829.1L357.6 844.7L359.4 844.7L359.9 840.6L361.7 840.6L362.2 850.8L364 850.8L364.5 850.7L366.3 850.7L366.8 845L368.6 845L369.1 847.8L370.9 847.8L371.4 826.2L373.2 826.2L373.7 814.3L375.5 814.3L376 844.6L377.8 844.6L378.3 850.8L380.1 850.8L380.6 853.6L382.4 853.6L382.9 828.7L384.7 828.7L385.2 845.5L387 845.5L387.5 844.6L389.3 844.6L389.8 843L391.6 843L392.1 842.3L393.9 842.3L394.4 849.1L396.2 849.1L396.7 830.6L398.5 830.6L399 876.9L400.8 876.9L401.3 855.7L403.1 855.7L403.6 845.7L405.4 845.7L405.9 869.1L407.7 869.1L408.2 881L410 881L410.5 863.2L412.3 863.2L412.8 873.8L414.6 873.8L415.1 869.7L416.9 869.7L417.4 856.7L419.2 856.7L419.7 867.6L421.5 867.6L422 857L423.8 857L424.3 849.5L426.1 849.5L426.6 875.6L428.4 875.6L428.9 832.5L430.7 832.5L431.2 845.9L433 845.9L433.5 854.8L435.3 854.8L435.8 859.9L437.6 859.9L438.1 850.7L439.9 850.7L440.4 849.6L442.2 849.6L442.7 865.7L444.5 865.7L445 846.3L446.8 846.3L447.3 872.8L449.1 872.8L449.6 824.9L451.4 824.9L451.9 819.3L453.7 819.3L454.2 840.9L456 840.9L456.5 878.8L458.3 878.8L458.8 850.8L460.6 850.8L461.1 839.8L462.9 839.8L463.4 844.5L465.2 844.5L465.7 866.2L467.5 866.2L468 864.4L469.8 864.4L470.3 859.4L472.1 859.4L472.6 867L474.4 867L474.9 866.4L476.7 866.4L477.2 847.5L479 847.5L479.5 861.4L481.3 861.4L481.8 857.6L483.6 857.6L484.1 859.8L485.9 859.8L486.4 872.3L488.2 872.3L488.7 840.4L490.5 840.4L491 863.9L492.8 863.9L493.3 851.1L495.1 851.1L495.6 851.1L497.4 851.1L497.9 864.1L499.7 864.1L500.2 846.8L502 846.8L502.5 842.2L504.3 842.2L504.8 852.1L506.6 852.1L507.1 853.2L508.9 853.2L509.4 852.9L511.2 852.9L511.7 848.4L513.5 848.4L514 832L515.8 832L516.3 862.9L518.1 862.9L518.6 854.1L520.4 854.1L520.9 844.2L522.7 844.2L523.2 869.3L525 869.3L525.5 862.5L527.3 862.5L527.8 869.9L529.6 869.9L530.1 865L531.9 865L532.4 872.8L534.2 872.8L534.7 867.2L536.5 867.2L537 863.3L538.8 863.3L539.3 861.7L541.1 861.7L541.6 872.5L543.4 872.5L543.9 869L545.7 869L546.2 863.6L548 863.6L548.5 875.3L550.3 875.3L550.8 874.3L552.6 874.3L553.1 875.6L554.9 875.6L555.4 863.8L557.2 863.8L557.7 903.5L559.5 903.5L560 877.2L561.8 877.2L562.3 858.7L564.1 858.7L564.6 861.3L566.4 861.3L566.9 849.1L568.7 849.1L569.2 850.6L571 850.6L571.5 868.5L573.3 868.5L573.8 877.6L575.6 877.6L576.1 874L577.9 874L578.4 851.9L580.2 851.9L580.7 875.8L582.5 875.8L583 864.4L584.8 864.4L585.3 875.8L587.1 875.8L587.6 871.7L589.4 871.7L589.9 854.8L591.7 854.8L592.2 852.3L594 852.3L594.5 844.2L596.3 844.2L596.8 860.3L598.6 860.3L599.1 865.8L600.9 865.8L601.4 845.9L603.2 845.9L603.7 857.9L605.5 857.9L606 840.7L607.8 840.7L608.3 839.2L610.1 839.2L610.6 859.5L612.4 859.5L612.9 857.5L614.7 857.5L615.2 858.3L617 858.3L617.5 869.1L619.3 869.1L619.8 862.1L621.6 862.1L622.1 869.7L623.9 869.7L624.4 871.4L626.2 871.4L626.7 872.2L628.5 872.2L629 864L630.8 864L631.3 842.2L633.1 842.2L633.6 841.4L635.4 841.4L635.9 879.2L637.7 879.2L638.2 874L640 874L640.5 849.2L642.3 849.2L642.8 870.9L644.6 870.9L645.1 846.6L646.9 846.6L647.4 860.9L649.2 860.9L649.7 877.6L651.5 877.6L652 884.4L653.8 884.4L654.3 865.6L656.1 865.6L656.6 854.8L658.4 854.8L658.9 884.3L660.7 884.3L661.2 871.5L663 871.5L663.5 868.1L665.3 868.1L665.8 871.4L667.6 871.4L668.1 870.9L669.9 870.9L670.4 874.8L672.2 874.8L672.7 872.4L674.5 872.4L675 869.5L676.8 869.5L677.3 872.6L679.1 872.6L679.6 868.1L681.4 868.1L681.9 878.2L683.7 878.2L684.2 868.4L686 868.4L686.5 862.2L688.3 862.2L688.8 853.9L690.6 853.9L691.1 852.5L692.9 852.5L693.4 842L695.2 842L695.7 838L697.5 838L698 825.4L699.8 825.4L700.3 817.9L702.1 817.9L702.5 947.1Z"/><path d="M701.5 811.1L702.5 806.6L703.5 801.2L704.5 801.3L705.5 796.1L706.5 796.8L707.5 793.9L708.5 792.9L709.5 789.8L710.5 786.5L711.5 782.4L712.5 779.1L712.5 806.8L711.5 817.7L710.5 823.4L709.5 835.2L708.5 842.3L707.5 850.9L706.5 859.4L705.5 867.3L704.5 880.3L703.5 883.2L702.5 889.9L701.5 897.2Z"/><path d="M1103.5 947.1L1098.3 892L1091.7 845L1088.2 806L1084.6 782L1082.5 768L1084.2 766L1086.6 784.5L1088.4 784.5L1088.9 791L1090.7 791L1091.2 799.7L1093 799.7L1093.5 804.3L1095.3 804.3L1095.8 811.1L1097.6 811.1L1098.1 814.9L1099.9 814.9L1100.4 823.4L1102.2 823.4L1102.7 833.7L1104.5 833.7L1105 837.8L1106.8 837.8L1107.3 844.5L1109.1 844.5L1109.6 852.9L1111.4 852.9L1111.9 854.8L1113.7 854.8L1114.2 862.3L1116 862.3L1116.5 859.8L1118.3 859.8L1118.8 874.8L1120.6 874.8L1121.1 870.8L1122.9 870.8L1123.4 880.5L1125.2 880.5L1125.7 868L1127.5 868L1128 851.5L1129.8 851.5L1130.3 870.3L1132.1 870.3L1132.6 881.5L1134.4 881.5L1134.9 870.5L1136.7 870.5L1137.2 851.7L1139 851.7L1139.5 864.8L1141.3 864.8L1141.8 873.5L1143.6 873.5L1144.1 868.3L1145.9 868.3L1146.4 891L1148.2 891L1148.7 876L1150.5 876L1151 912.6L1152.8 912.6L1153.3 875.9L1155.1 875.9L1155.6 859.9L1157.4 859.9L1157.9 894.4L1159.7 894.4L1160.2 877L1162 877L1162.5 880.4L1164.3 880.4L1164.8 853.7L1166.6 853.7L1167.1 881.7L1168.9 881.7L1169.4 883.1L1171.2 883.1L1171.7 871.7L1173.5 871.7L1174 888.8L1175.8 888.8L1176.3 884.6L1178.1 884.6L1178.6 866.4L1180.4 866.4L1180.9 870.7L1182.7 870.7L1183.2 885.6L1185 885.6L1185.5 866.4L1187.3 866.4L1187.8 859.8L1189.6 859.8L1190.1 885.2L1191.9 885.2L1192.4 873.4L1194.2 873.4L1194.7 878.8L1196.5 878.8L1197 880.5L1198.8 880.5L1199.3 875.4L1201.1 875.4L1201.6 887.5L1203.4 887.5L1203.9 877.7L1205.7 877.7L1206.2 869.2L1208 869.2L1208.5 865.4L1210.3 865.4L1210.8 863.8L1212.6 863.8L1213.1 866.2L1214.9 866.2L1215.4 886.9L1217.2 886.9L1217.7 870.4L1219.5 870.4L1220 850.9L1221.8 850.9L1222.3 871.4L1224.1 871.4L1224.6 879.3L1226.4 879.3L1226.9 870.5L1228.7 870.5L1229.2 883.2L1231 883.2L1231.5 866.1L1233.3 866.1L1233.8 886.3L1235.6 886.3L1236.1 849.1L1237.9 849.1L1238.4 869.5L1240.2 869.5L1240.7 861.2L1242.5 861.2L1243 875.3L1244.8 875.3L1245.3 864.8L1247.1 864.8L1247.6 874L1249.4 874L1249.9 868.1L1251.7 868.1L1252.2 880L1254 880L1254.5 883.9L1256.3 883.9L1256.8 878L1258.6 878L1259.1 872.9L1260.9 872.9L1261.4 855.4L1263.2 855.4L1263.7 864L1265.5 864L1266 874.7L1267.8 874.7L1268.3 879.7L1270.1 879.7L1270.6 875.7L1272.4 875.7L1272.9 851.3L1274.7 851.3L1275.2 868.2L1277 868.2L1277.5 881.7L1279.3 881.7L1279.8 861.8L1281.6 861.8L1282.1 842.1L1283.9 842.1L1284.4 873L1286.2 873L1286.7 869.9L1288.5 869.9L1289 860.7L1290.8 860.7L1291.3 868.4L1293.1 868.4L1293.6 868.9L1295.4 868.9L1295.9 871.2L1297.7 871.2L1298.2 870.9L1300 870.9L1300.5 843.7L1302.3 843.7L1302.8 857.3L1304.6 857.3L1305.1 874.2L1306.9 874.2L1307.4 871L1309.2 871L1309.7 860.7L1311.5 860.7L1312 872L1313.8 872L1314.3 877.9L1316.1 877.9L1316.6 872.2L1318.4 872.2L1318.9 865.3L1320.7 865.3L1321.2 889.2L1323 889.2L1323.5 882.2L1325.3 882.2L1325.8 886.2L1327.6 886.2L1327.6 947.1Z"/><path d="M335.2 870L335.8 740L337 690L340 689L340.6 740L341.4 870Z"/><path d="M872.4 667.7L874 673.2L875.6 683.4L877.2 694.5L878.8 690.6L880.4 687.8L882 690.6L883.6 697.9L885.2 707.2L886.8 717.5L888.4 722.6L890 718.4L891.6 715.2L893.2 721.1L894.8 725L896.4 732.9L898 740.6L899.6 735.3L901.2 724.7L902.8 717.3L904.4 720.5L906 724.9L907.6 744.8L909.2 755.7L910.8 757.7L912.4 751.5L914 740.6L915.6 747.9L917.2 757L918.8 762.9L920.4 772.4L922 768.7L923.6 766.2L925.2 758.8L926.8 759.1L928.4 762.5L930 773.7L931.6 776.8L933.2 775.4L934.8 781.6L936.4 781.4L938 777.2L939.6 780.2L941.2 785.9L942.8 783.7L944.4 771.6L946 766.3L947.6 764.5L949.2 767.6L950.8 778.1L952.4 780.8L954 780.2L955.6 772.4L957.2 764.7L958.8 747.5L960.4 744.5L962 740.1L963.6 735.8L965.2 726.1L966.8 720.4L968.4 720.8L970 718.3L971.6 712.5L973.2 704.7L974.8 701.7L976.4 692.9L978 676.6L979.6 659.3L981.2 650.1L981.2 653.1L979.6 661.7L978 679.1L976.4 696.8L974.8 707.5L973.2 710.8L971.6 719.3L970 726.7L968.4 732.2L966.8 730L965.2 734.7L963.6 749.4L962 754L960.4 762.2L958.8 764.8L957.2 782.6L955.6 798.6L954 815.2L952.4 804.1L950.8 802.7L949.2 790.4L947.6 782.1L946 788.4L944.4 806.1L942.8 810.2L941.2 813.9L939.6 805.5L938 802L936.4 807.1L934.8 804.1L933.2 802.8L931.6 801.9L930 797L928.4 784.9L926.8 775.7L925.2 777.1L923.6 784.3L922 789.2L920.4 790.7L918.8 784.1L917.2 774.8L915.6 761.9L914 753L912.4 770.2L910.8 779L909.2 775.6L907.6 760.1L906 737.9L904.4 728.6L902.8 724.8L901.2 736.7L899.6 749.6L898 759L896.4 746.7L894.8 733.8L893.2 729.3L891.6 723.6L890 726.8L888.4 730.5L886.8 725.8L885.2 714.8L883.6 702.4L882 693.6L880.4 690.1L878.8 693.3L877.2 697.8L875.6 686.2L874 675.6L872.4 670.2Z"/></g>
<path d="M686 861.5L686.8 860.6L687.6 858L688.4 856.7L689.2 855.2L690 852.3L690.8 852.2L691.6 851.2L692.4 848.9L693.2 845.8L694 844.4L694.8 839.8L695.6 839.1L696.4 836.3L697.2 832.9L698 831.5L698.8 826.3L699.6 824.5L700.4 821.2L701.2 817.7L702 815.3L702.8 813.1L703.6 810.5L704.4 808.1L705.2 804.2L706 802.2L706.8 799.6L707.6 796.5L708.4 794.6L709.2 789.8L710 787.1L710.8 784.1L711.6 780.5L712.4 778.9L713.2 776.1L714 776.8L714.8 772.1L715.6 773.9L716.4 769.6L717.2 766.5L718 761.6L718.8 756.5L719.6 751.6L720.4 746.2L721.2 741.1L722 735L722.8 726.6L723.6 722.5L724.4 715L725.2 711.9L726 710.4L726.8 707L727.6 706.2L728.4 701.1L729.2 701.2L730 697.1L730.8 689.2L731.6 674.8L732.4 663.7L733.2 649.2L734 618.7L734.8 615.3L735.6 613.3L736.4 613.4L737.2 613L738 607.4L738.8 599.9L739.6 597.3L740.4 589.2L741.2 584.6L742 577.1L742.8 570.8L743.6 565.4L744.4 556.1L745.2 551.4L746 550.3L746.8 549.4L747.6 547.2L748.4 549L749.2 546.7L750 544.4L750.8 537.7L751.6 533.7L752.4 525.7L753.2 517.2L754 508.2L754.8 498.8L755.6 489.9L756.4 480.5L757.2 470.8L758 459.7L758.8 448.7L759.6 438.2L760.4 426.5L761.2 410.7L762 395.1L762.8 383.9L763.6 376.2L764.4 364.7L765.2 352L766 340.8L766.8 331.6L767.6 323.6L768.4 320.5L769.2 318.9L770 315.6L770.8 310.3L771.6 306.4L772.4 296.4L773.2 289L774 277.2L774.8 263.9L775.6 251L776.4 243.9L777.2 234.7L778 235.3L778.8 240.3L779.6 245.9L780.4 249.7L781.2 255.2L782 271.9L782.8 270.5L783.6 263.9L784.4 258.9L785.2 258.7L786 258L786.8 260.9L787.6 266.6L788.4 271.9L789.2 275.9L790 283.8L790.8 290.9L791.6 294.9L792.4 300.6L793.2 317.7L794 316.5L794.8 312.2L795.6 311.6L796.4 308.8L797.2 315.2L798 326.9L798.8 337L799.6 347.2L800.4 359.2L801.2 373.8L802 386.2L802.8 392.3L803.6 392.2L804.4 394.2L805.2 395L806 398.8L806.8 401.2L807.6 404.3L808.4 408.2L809.2 410.6L810 417.3L810.8 425.8L811.6 431.3L812.4 439.7L813.2 442L814 435.5L814.8 432L815.6 431.1L816.4 429.2L817.2 428.6L818 427.5L818.8 428.1L819.6 435.1L820.4 439.3L821.2 446.8L822 454L822.8 461.2L823.6 468.6L824.4 470.1L825.2 471L826 471.4L826.8 472.6L827.6 472L828.4 472.5L829.2 479.8L830 483L830.8 490L831.6 496.4L832.4 499.5L833.2 505.2L834 511.7L834.8 518.4L835.6 516.3L836.4 513.2L837.2 511.2L838 506.5L838.8 505.7L839.6 511.6L840.4 515.5L841.2 519L842 528.5L842.8 538.8L843.6 546.5L844.4 557.1L845.2 563.5L846 568.1L846.8 570.6L847.6 571.9L848.4 569.1L849.2 568.7L850 567.4L850.8 566L851.6 572.2L852.4 581.3L853.2 585L854 592.3L854.8 594.8L855.6 599.5L856.4 606.2L857.2 608.1L858 605.8L858.8 604.7L859.6 605.3L860.4 600.2L861.2 598.6L862 606.4L862.8 612.1L863.6 622.6L864.4 625.4L865.2 632.3L866 639.4L866.8 644.1L867.6 649L868.4 651.1L869.2 655.4L870 659.4L870.8 661.3L871.6 663.6L872.4 669L873.2 671.5L874 674.2L874.8 679.6L875.6 685.1L876.4 693.2L877.2 696.2L878 693.7L878.8 691.9L879.6 690.4L880.4 688.8L881.2 688.8L882 692.2L882.8 695.1L883.6 699.7L884.4 705.2L885.2 711.4L886 716.7L886.8 721.9L887.6 727L888.4 726.2L889.2 723.9L890 722.2L890.8 720.6L891.6 719.9L892.4 722.9L893.2 725.4L894 726.8L894.8 729.2L895.6 734.4L896.4 740.2L897.2 746.3L898 749L898.8 746.3L899.6 740.1L900.4 736.2L901.2 731.6L902 727.6L902.8 720.4L903.6 723.8L904.4 724.6L905.2 731.2L906 733.1L906.8 740L907.6 753.8L908.4 761.6L909.2 765.1L910 766.2L910.8 768.3L911.6 764.8L912.4 759.2L913.2 754.3L914 747.5L914.8 751.4L915.6 755.1L916.4 761.7L917.2 765.8L918 770.6L918.8 772.9L919.6 778.4L920.4 781.4L921.2 785L922 779.5L922.8 777.7L923.6 775.5L924.4 770.7L925.2 767.9L926 764.5L926.8 768.1L927.6 772.5L928.4 775.4L929.2 777.5L930 784.4L930.8 784.2L931.6 789L932.4 790.8L933.2 793.5L934 792.8L934.8 792.4L935.6 791.8L936.4 792.1L937.2 789.7L938 790.9L938.8 792.3L939.6 793.6L940.4 797.9L941.2 797.4L942 799.3L942.8 800.1L943.6 793.9L944.4 788.5L945.2 780.1L946 775.8L946.8 769.9L947.6 772.9L948.4 776.9L949.2 781.3L950 786.2L950.8 792.4L951.6 791L952.4 794.2L953.2 796.5L954 797.5L954.8 790.3L955.6 785.7L956.4 779.3L957.2 772.6L958 764.9L958.8 757L959.6 754.7L960.4 754.4L961.2 751.8L962 747.1L962.8 745.8L963.6 742.6L964.4 737.9L965.2 730.8L966 726.8L966.8 725.9L967.6 723.9L968.4 725.7L969.2 721.2L970 722.4L970.8 719.9L971.6 716.3L972.4 713.6L973.2 707.6L974 707.1L974.8 704.5L975.6 701.7L976.4 694.3L977.2 686.8L978 677.6L978.8 671.2L979.6 660.5L980.4 655.7L981.2 651.5L982 647.3L982.8 645L983.6 639.9L984.4 629.3L985.2 619.1L986 609.5L986.8 598.5L987.6 594.6L988.4 590.2L989.2 585.1L990 579.7L990.8 577.1L991.6 572.1L992.4 568L993.2 567.1L994 563.5L994.8 562.8L995.6 558.5L996.4 556.5L997.2 553.5L998 552.7L998.8 544.1L999.6 537.8L1000.4 530.4L1001.2 522.3L1002 519L1002.8 514.3L1003.6 509.4L1004.4 506.9L1005.2 502.8L1006 498.4L1006.8 496.2L1007.6 484.1L1008.4 472.9L1009.2 463.4L1010 459.2L1010.8 454.9L1011.6 450L1012.4 445.6L1013.2 444.8L1014 446.2L1014.8 450.4L1015.6 454.8L1016.4 458.1L1017.2 459.7L1018 461.7L1018.8 466.5L1019.6 467.7L1020.4 467.5L1021.2 464.2L1022 460.7L1022.8 461.6L1023.6 456.9L1024.4 451.1L1025.2 451.6L1026 453.5L1026.8 458.8L1027.6 460.1L1028.4 462.7L1029.2 466.9L1030 470.6L1030.8 471L1031.6 471.4L1032.4 469.2L1033.2 469.8L1034 467.8L1034.8 467.2L1035.6 471.5L1036.4 479.1L1037.2 482.6L1038 489.3L1038.8 495.8L1039.6 501L1040.4 509.4L1041.2 517.4L1042 523.7L1042.8 532.2L1043.6 537.9L1044.4 537.6L1045.2 540.5L1046 542.8L1046.8 543.6L1047.6 545.1L1048.4 546L1049.2 549L1050 554L1050.8 559.6L1051.6 567L1052.4 571.6L1053.2 576.4L1054 581.7L1054.8 583.8L1055.6 587.4L1056.4 590.7L1057.2 592.1L1058 594.8L1058.8 604.7L1059.6 608.5L1060.4 617.2L1061.2 626.6L1062 631.7L1062.8 640.4L1063.6 646.7L1064.4 657.8L1065.2 663.2L1066 671.9L1066.8 675.1L1067.6 678.5L1068.4 679.7L1069.2 679.8L1070 682.2L1070.8 682.6L1071.6 685.6L1072.4 690.9L1073.2 697.2L1074 702.6L1074.8 710.4L1075.6 716L1076.4 721.7L1077.2 729.7L1078 732.5L1078.8 736.7L1079.6 740.5L1080.4 746.5L1081.2 750.2L1082 753.6L1082.8 758.5L1083.6 763.7L1084.4 767.6L1085.2 773.1L1086 777.3L1086.8 782.2L1087.6 781.9L1088.4 785.1L1089.2 787.5L1090 790.1L1090.8 793L1091.6 795.2L1092.4 799L1093.2 799.5L1094 803L1094.8 805.4L1095.6 807.6L1096.4 808.4L1097.2 810.5L1098 812.1L1098.8 815.1L1099.6 817.1L1100.4 820.6L1101.2 823.9L1102 827.2L1102.8 827.5L1103.6 831.3L1104.4 833.3L1105.2 836.1L1106 837.8L1106.8 840.8L1107.6 843.8L1108.4 845.8L1109.2 847.9L1110 852.1L1110.8 853.5L1111.6 854.8L1112.4 856.4L1113.2 857.5L1114 858.3L1114.8 860.9L1115.6 861.5L1116.4 861.8" fill="none" stroke="#1A6FDF" stroke-width="3.2" stroke-linejoin="round" stroke-linecap="round"/>
</g>
<g font-size="51"><text x="178.4" y="49.6" text-anchor="end"><tspan font-size="60.5" dy="3.4">−</tspan><tspan dx="-4" dy="-3.4">20</tspan></text><text x="178.4" y="200.8" text-anchor="end"><tspan font-size="60.5" dy="3.4">−</tspan><tspan dx="-4" dy="-3.4">30</tspan></text><text x="178.4" y="352.1" text-anchor="end"><tspan font-size="60.5" dy="3.4">−</tspan><tspan dx="-4" dy="-3.4">40</tspan></text><text x="178.4" y="503.3" text-anchor="end"><tspan font-size="60.5" dy="3.4">−</tspan><tspan dx="-4" dy="-3.4">50</tspan></text><text x="178.4" y="654.5" text-anchor="end"><tspan font-size="60.5" dy="3.4">−</tspan><tspan dx="-4" dy="-3.4">60</tspan></text><text x="178.4" y="805.8" text-anchor="end"><tspan font-size="60.5" dy="3.4">−</tspan><tspan dx="-4" dy="-3.4">70</tspan></text><text x="178.4" y="957" text-anchor="end"><tspan font-size="60.5" dy="3.4">−</tspan><tspan dx="-4" dy="-3.4">80</tspan></text><text x="198.2" y="1001.3" text-anchor="middle">950</text><text x="423.6" y="1001.3" text-anchor="middle">1000</text><text x="648.9" y="1001.3" text-anchor="middle">1050</text><text x="874.3" y="1001.3" text-anchor="middle">1100</text><text x="1099.6" y="1001.3" text-anchor="middle">1150</text><text x="1325" y="1001.3" text-anchor="middle">1200</text></g>
<g stroke-width="3" fill="none">
<line x1="240.5" y1="77.5" x2="340.5" y2="77.5" stroke="#515151"/>
<line x1="766.5" y1="77.5" x2="866" y2="77.5" stroke="#F14040"/>
<line x1="240.5" y1="131.5" x2="340.5" y2="131.5" stroke="#1A6FDF"/>
</g>
<g font-size="41.7" word-spacing="0.8">
<text x="348.8" y="91.5">Counter pump 4359 W</text>
<text x="873.9" y="91.5">Counter pump 2584 W</text>
<text x="348.8" y="145.5">Co-pump 2170 W</text>
</g>
<text x="762.4" y="1110.4" font-size="79" text-anchor="middle" style="font-kerning:none">Wavelength (nm)</text>
<text transform="translate(76.6,485.5) rotate(-90)" font-size="79.5" text-anchor="middle">Intensity (dBm)</text>
</svg>
</body>
</html>
